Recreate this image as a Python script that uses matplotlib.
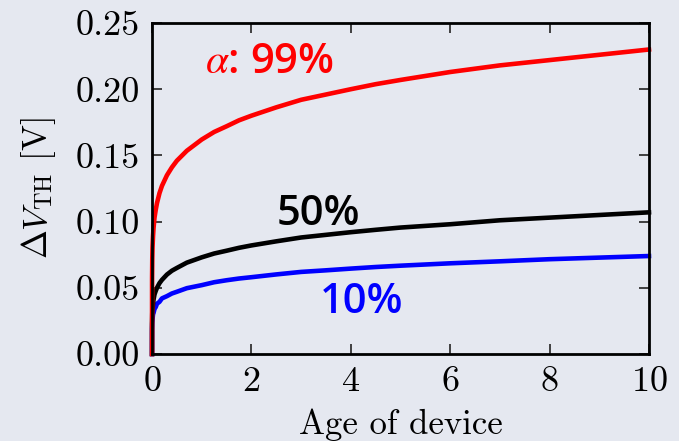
import matplotlib
matplotlib.use("Agg")
import matplotlib.pyplot as plt

plt.rcParams['font.family'] = 'serif'
plt.rcParams['font.serif'] = ['cmr10']
plt.rcParams['mathtext.fontset'] = 'cm'
plt.rcParams['axes.unicode_minus'] = False
plt.rcParams['axes.formatter.use_mathtext'] = True

# values
age = [0, 0.001, 0.005, 0.01, 0.02, 0.03, 0.05, 0.075, 0.1, 0.15, 0.2, 0.3, 0.4, 0.5,
       0.7, 1, 1.25, 1.5, 1.75, 2, 2.5, 3, 3.5, 4, 4.5, 5, 6, 7, 8, 9, 10]
dv_99 = [0, 0.057, 0.072, 0.0805, 0.089, 0.095, 0.103, 0.109, 0.114, 0.1215, 0.127,
         0.135, 0.141, 0.146, 0.1535, 0.162, 0.1677, 0.172, 0.1765, 0.180, 0.1863,
         0.192, 0.196, 0.200, 0.2038, 0.207, 0.213, 0.218, 0.222, 0.226, 0.230]
dv_50 = [0, 0.023, 0.031, 0.0342, 0.038, 0.041, 0.045, 0.0477, 0.050, 0.0535, 0.056,
         0.060, 0.0629, 0.065, 0.069, 0.073, 0.0759, 0.078, 0.0802, 0.082, 0.0851,
         0.088, 0.090, 0.092, 0.0938, 0.0955, 0.098, 0.101, 0.103, 0.105, 0.107]
dv_10 = [0, 0.019, 0.024, 0.0263, 0.030, 0.031, 0.034, 0.0355, 0.038, 0.0394, 0.042,
         0.0437, 0.0457, 0.047, 0.0497, 0.052, 0.0542, 0.0557, 0.057, 0.058, 0.0601,
         0.062, 0.0632, 0.0645, 0.0657, 0.0667, 0.0685, 0.070, 0.0716, 0.0728, 0.074]

bg = '#e5e8f0'
fig = plt.figure(figsize=(6.79, 4.41), dpi=100, facecolor=bg)
ax = fig.add_axes([0.2239, 0.1973, 0.7319, 0.7505])
ax.set_facecolor(bg)

kw = dict(lw=3.3, solid_capstyle='projecting', solid_joinstyle='round', clip_on=False)
ax.plot(age, dv_10, color='blue', **kw)
ax.plot(age, dv_50, color='black', **kw)
ax.plot(age, dv_99, color='red', **kw)

ax.set_xlim(0, 10)
ax.set_ylim(0, 0.25)
ax.set_xticks([0, 2, 4, 6, 8, 10])
ax.set_yticks([0, 0.05, 0.10, 0.15, 0.20, 0.25])
ax.set_yticklabels(['0.00', '0.05', '0.10', '0.15', '0.20', '0.25'])

for s in ax.spines.values():
    s.set_linewidth(2)
    s.set_color('black')
ax.tick_params(direction='in', length=7, width=1.3, top=True, right=True,
               labelsize=26, pad=9, color='#333333')

ax.set_xlabel('Age of device', fontsize=25, labelpad=7.5)
ax.set_ylabel(r'$\Delta V_{\rm TH}$ [V]', fontsize=25, labelpad=12)

tkw = dict(ha='center', va='baseline', fontsize=30, family='Open Sans', weight='semibold')
ax.text(2.36, 0.212, r'$\alpha$: 99%', color='red', math_fontfamily='stix', **tkw)
ax.text(3.35, 0.0974, '50%', color='black', **tkw)
ax.text(4.21, 0.031, '10%', color='blue', **tkw)

fig.savefig('out.png', dpi=100, facecolor=bg)
